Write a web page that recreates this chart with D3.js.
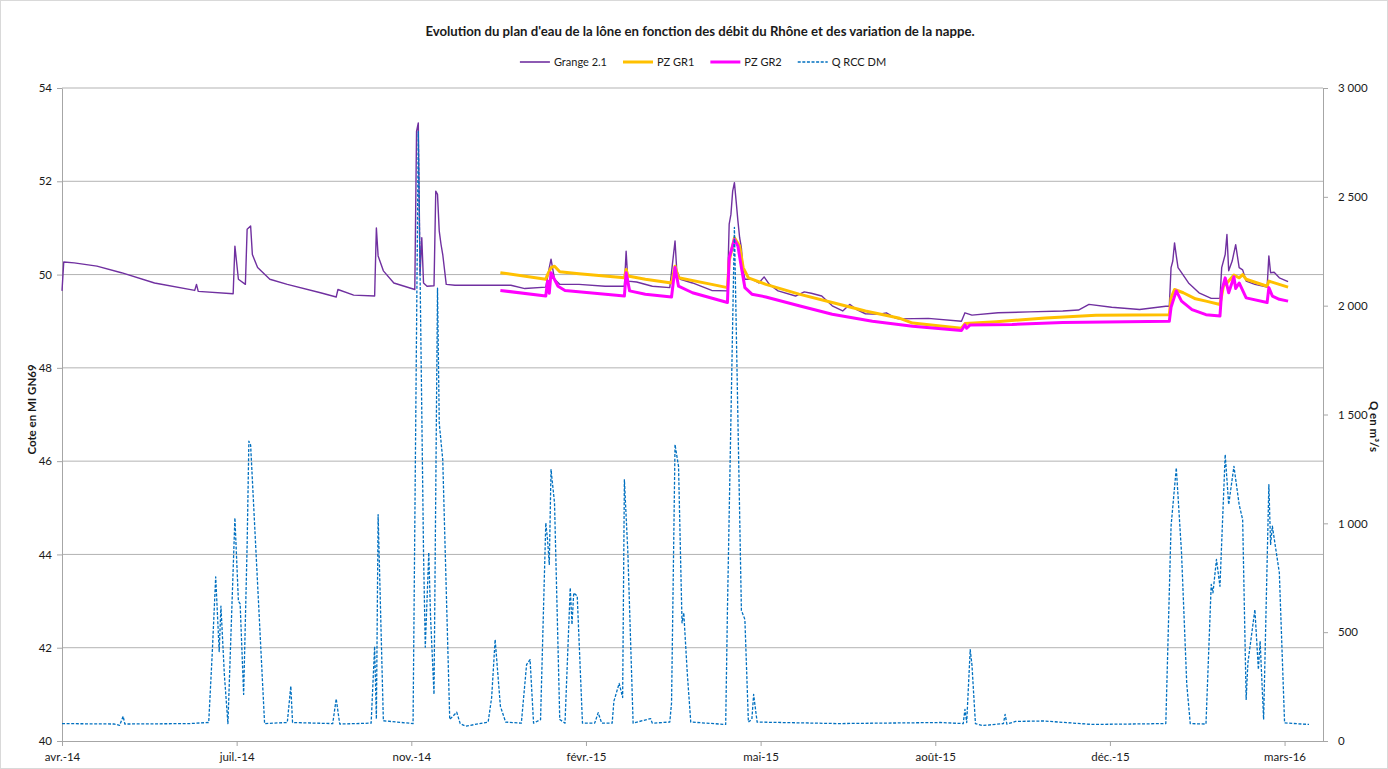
<!DOCTYPE html>
<html>
<head>
<meta charset="utf-8">
<script src="https://cdnjs.cloudflare.com/ajax/libs/d3/7.8.5/d3.min.js"></script>
<style>
    body { margin: 0; background: #fff; }
    svg text { font-family: Lato, "Open Sans", sans-serif; fill: #1a1a1a; }
</style>
</head>
<body>
<div id="chart"></div>
<script>
// ---- data ----
const chartTitle = "Evolution du plan d'eau de la lône en fonction des débit du Rhône et des variation de la nappe.";
const seriesNames = ["Grange 2.1", "PZ GR1", "PZ GR2", "Q RCC DM"];
const leftTicks = [40, 42, 44, 46, 48, 50, 52, 54];
const rightTicks = [0, 500, 1000, 1500, 2000, 2500, 3000];
const axisStart = "2014-04-16";
const axisEnd = "2016-04-07";
const tickStepDays = 100;

// water level at Grange 2.1 (m)
const grangeData = [
    ["2014-04-16", 49.65], ["2014-04-17", 50.27], ["2014-04-23", 50.25], ["2014-05-06", 50.18],
    ["2014-05-20", 50.04], ["2014-06-08", 49.82], ["2014-07-01", 49.66], ["2014-07-02", 49.79],
    ["2014-07-03", 49.64], ["2014-07-23", 49.59], ["2014-07-24", 50.61], ["2014-07-26", 49.9],
    ["2014-07-30", 49.79], ["2014-07-31", 50.97], ["2014-08-02", 51.04], ["2014-08-03", 50.43],
    ["2014-08-06", 50.15], ["2014-08-13", 49.9], ["2014-08-23", 49.79], ["2014-09-11", 49.61],
    ["2014-09-20", 49.52], ["2014-09-21", 49.68], ["2014-09-30", 49.56], ["2014-10-12", 49.54],
    ["2014-10-13", 51.0], ["2014-10-14", 50.4], ["2014-10-17", 50.08], ["2014-10-23", 49.82],
    ["2014-11-04", 49.68], ["2014-11-05", 53.07], ["2014-11-06", 53.25], ["2014-11-07", 50.0],
    ["2014-11-08", 50.79], ["2014-11-09", 49.82], ["2014-11-11", 49.75], ["2014-11-15", 49.76],
    ["2014-11-16", 51.79], ["2014-11-17", 51.72], ["2014-11-18", 50.93], ["2014-11-19", 50.65],
    ["2014-11-20", 50.43], ["2014-11-22", 49.79], ["2014-11-27", 49.77], ["2014-12-29", 49.77],
    ["2015-01-06", 49.7], ["2015-01-18", 49.73], ["2015-01-20", 50.15], ["2015-01-21", 50.33],
    ["2015-01-23", 49.9], ["2015-01-26", 49.79], ["2015-02-06", 49.79], ["2015-02-21", 49.75],
    ["2015-03-04", 49.75], ["2015-03-05", 50.5], ["2015-03-06", 49.86], ["2015-03-11", 49.84],
    ["2015-03-20", 49.75], ["2015-03-30", 49.72], ["2015-04-02", 50.72], ["2015-04-03", 50.08],
    ["2015-04-05", 49.9], ["2015-04-12", 49.82], ["2015-04-23", 49.66], ["2015-05-02", 49.65],
    ["2015-05-03", 51.08], ["2015-05-04", 51.29], ["2015-05-05", 51.79], ["2015-05-06", 51.97],
    ["2015-05-07", 51.57], ["2015-05-08", 51.15], ["2015-05-09", 50.79], ["2015-05-10", 50.57],
    ["2015-05-11", 50.08], ["2015-05-12", 49.9], ["2015-05-16", 49.9], ["2015-05-20", 49.82],
    ["2015-05-23", 49.95], ["2015-05-26", 49.79], ["2015-05-31", 49.65], ["2015-06-10", 49.54],
    ["2015-06-15", 49.63], ["2015-06-19", 49.6], ["2015-06-25", 49.54], ["2015-07-01", 49.33],
    ["2015-07-07", 49.22], ["2015-07-11", 49.36], ["2015-07-15", 49.25], ["2015-07-20", 49.16],
    ["2015-07-28", 49.15], ["2015-08-01", 49.18], ["2015-08-06", 49.07], ["2015-08-08", 49.05],
    ["2015-08-25", 49.06], ["2015-09-13", 49.0], ["2015-09-15", 49.18], ["2015-09-19", 49.13],
    ["2015-10-04", 49.18], ["2015-10-22", 49.2], ["2015-11-10", 49.22], ["2015-11-19", 49.24],
    ["2015-11-25", 49.36], ["2015-12-08", 49.3], ["2015-12-24", 49.25], ["2016-01-08", 49.32],
    ["2016-01-10", 49.32], ["2016-01-11", 50.15], ["2016-01-12", 50.29], ["2016-01-13", 50.68],
    ["2016-01-14", 50.4], ["2016-01-15", 50.15], ["2016-01-17", 50.04], ["2016-01-21", 49.82],
    ["2016-01-27", 49.61], ["2016-02-03", 49.49], ["2016-02-08", 49.49], ["2016-02-09", 50.15],
    ["2016-02-11", 50.43], ["2016-02-12", 50.86], ["2016-02-13", 50.08], ["2016-02-15", 50.29],
    ["2016-02-17", 50.64], ["2016-02-19", 50.15], ["2016-02-21", 50.1], ["2016-02-23", 49.86],
    ["2016-02-28", 49.79], ["2016-03-06", 49.73], ["2016-03-07", 50.4], ["2016-03-08", 50.04],
    ["2016-03-10", 50.05], ["2016-03-13", 49.93], ["2016-03-18", 49.85]
];

// piezometer PZ GR1 (m)
const pzGr1Data = [
    ["2014-12-23", 50.04], ["2015-01-18", 49.9], ["2015-01-19", 50.0], ["2015-01-21", 50.15],
    ["2015-01-23", 50.18], ["2015-01-26", 50.06], ["2015-02-06", 50.02], ["2015-03-04", 49.93],
    ["2015-03-05", 50.11], ["2015-03-06", 49.97], ["2015-03-16", 49.9], ["2015-03-31", 49.82],
    ["2015-04-02", 50.18], ["2015-04-04", 49.93], ["2015-04-23", 49.79], ["2015-05-02", 49.72],
    ["2015-05-03", 50.29], ["2015-05-06", 50.79], ["2015-05-09", 50.61], ["2015-05-11", 50.15],
    ["2015-05-14", 49.93], ["2015-05-24", 49.79], ["2015-06-12", 49.58], ["2015-07-01", 49.4],
    ["2015-07-20", 49.22], ["2015-08-08", 49.07], ["2015-08-16", 48.96], ["2015-09-13", 48.85],
    ["2015-09-15", 48.95], ["2015-10-03", 48.99], ["2015-10-31", 49.07], ["2015-11-29", 49.13],
    ["2016-01-10", 49.14], ["2016-01-11", 49.5], ["2016-01-13", 49.68], ["2016-01-18", 49.61],
    ["2016-01-25", 49.48], ["2016-01-31", 49.43], ["2016-02-08", 49.36], ["2016-02-10", 49.75],
    ["2016-02-12", 49.82], ["2016-02-16", 49.99], ["2016-02-19", 49.93], ["2016-02-21", 50.0],
    ["2016-02-23", 49.9], ["2016-03-06", 49.75], ["2016-03-07", 49.86], ["2016-03-18", 49.73]
];

// piezometer PZ GR2 (m)
const pzGr2Data = [
    ["2014-12-23", 49.66], ["2015-01-18", 49.54], ["2015-01-19", 49.86], ["2015-01-20", 49.6],
    ["2015-01-21", 50.04], ["2015-01-25", 49.75], ["2015-01-29", 49.66], ["2015-03-04", 49.54],
    ["2015-03-05", 50.04], ["2015-03-07", 49.65], ["2015-03-16", 49.58], ["2015-03-31", 49.52],
    ["2015-04-02", 50.15], ["2015-04-04", 49.75], ["2015-04-12", 49.61], ["2015-05-02", 49.4],
    ["2015-05-03", 50.36], ["2015-05-06", 50.75], ["2015-05-08", 50.61], ["2015-05-10", 50.15],
    ["2015-05-12", 49.72], ["2015-05-16", 49.58], ["2015-05-24", 49.52], ["2015-06-12", 49.33],
    ["2015-07-01", 49.15], ["2015-07-24", 49.0], ["2015-08-16", 48.89], ["2015-09-13", 48.8],
    ["2015-09-15", 48.92], ["2015-09-16", 48.85], ["2015-09-18", 48.92], ["2015-10-12", 48.93],
    ["2015-11-10", 48.97], ["2016-01-10", 49.0], ["2016-01-11", 49.3], ["2016-01-14", 49.65],
    ["2016-01-17", 49.43], ["2016-01-23", 49.25], ["2016-01-31", 49.14], ["2016-02-08", 49.11],
    ["2016-02-09", 49.65], ["2016-02-11", 49.93], ["2016-02-13", 49.61], ["2016-02-16", 49.95],
    ["2016-02-17", 49.7], ["2016-02-19", 49.82], ["2016-02-23", 49.5], ["2016-03-06", 49.4],
    ["2016-03-07", 49.72], ["2016-03-09", 49.54], ["2016-03-13", 49.47], ["2016-03-18", 49.43]
];

// Rhône discharge Q RCC DM (m3/s)
const qRccData = [
    ["2014-04-16", 80], ["2014-05-16", 78], ["2014-05-19", 72], ["2014-05-21", 114], ["2014-05-22", 78],
    ["2014-06-28", 80], ["2014-07-09", 85], ["2014-07-11", 400], ["2014-07-13", 754], ["2014-07-15", 411],
    ["2014-07-16", 619], ["2014-07-18", 300], ["2014-07-20", 80], ["2014-07-24", 1025], ["2014-07-26", 642],
    ["2014-07-27", 630], ["2014-07-29", 214], ["2014-07-31", 900], ["2014-08-01", 1377], ["2014-08-02", 1360],
    ["2014-08-10", 80], ["2014-08-23", 85], ["2014-08-25", 252], ["2014-08-26", 85], ["2014-09-18", 80],
    ["2014-09-20", 194], ["2014-09-22", 78], ["2014-10-10", 82], ["2014-10-12", 435], ["2014-10-13", 101],
    ["2014-10-14", 1040], ["2014-10-17", 93], ["2014-11-03", 80], ["2014-11-06", 2800], ["2014-11-09", 864],
    ["2014-11-10", 431], ["2014-11-12", 866], ["2014-11-13", 573], ["2014-11-15", 214], ["2014-11-17", 2080],
    ["2014-11-18", 1460], ["2014-11-20", 1293], ["2014-11-24", 99], ["2014-11-28", 132], ["2014-11-30", 80],
    ["2014-12-03", 68], ["2014-12-16", 87], ["2014-12-18", 200], ["2014-12-20", 466], ["2014-12-23", 160],
    ["2014-12-26", 87], ["2015-01-04", 82], ["2015-01-07", 351], ["2015-01-09", 374], ["2015-01-11", 82],
    ["2015-01-15", 98], ["2015-01-18", 1002], ["2015-01-19", 925], ["2015-01-20", 811], ["2015-01-21", 1247],
    ["2015-01-23", 1094], ["2015-01-26", 99], ["2015-01-29", 82], ["2015-02-01", 704], ["2015-02-02", 535],
    ["2015-02-03", 681], ["2015-02-05", 666], ["2015-02-08", 82], ["2015-02-15", 82], ["2015-02-17", 130],
    ["2015-02-19", 82], ["2015-02-25", 82], ["2015-02-26", 183], ["2015-02-28", 237], ["2015-03-01", 265],
    ["2015-03-03", 200], ["2015-03-04", 1201], ["2015-03-06", 864], ["2015-03-09", 82], ["2015-03-19", 103],
    ["2015-03-20", 82], ["2015-03-30", 87], ["2015-03-31", 175], ["2015-04-02", 1362], ["2015-04-04", 1262],
    ["2015-04-06", 543], ["2015-04-07", 589], ["2015-04-09", 313], ["2015-04-11", 87], ["2015-05-01", 76],
    ["2015-05-02", 600], ["2015-05-06", 2360], ["2015-05-10", 600], ["2015-05-12", 558], ["2015-05-14", 87],
    ["2015-05-16", 100], ["2015-05-17", 214], ["2015-05-19", 87], ["2015-07-05", 80], ["2015-09-01", 85],
    ["2015-09-14", 80], ["2015-09-15", 145], ["2015-09-16", 85], ["2015-09-18", 420], ["2015-09-19", 350],
    ["2015-09-21", 80], ["2015-09-25", 71], ["2015-10-07", 80], ["2015-10-08", 122], ["2015-10-09", 78],
    ["2015-10-14", 90], ["2015-10-30", 92], ["2015-11-27", 76], ["2016-01-08", 80], ["2016-01-11", 987],
    ["2016-01-14", 1255], ["2016-01-17", 864], ["2016-01-20", 260], ["2016-01-22", 80], ["2016-01-31", 78],
    ["2016-02-03", 719], ["2016-02-04", 681], ["2016-02-06", 834], ["2016-02-08", 711], ["2016-02-11", 1316],
    ["2016-02-13", 1086], ["2016-02-16", 1262], ["2016-02-19", 1086], ["2016-02-21", 1017], ["2016-02-23", 191],
    ["2016-02-24", 359], ["2016-02-28", 604], ["2016-03-01", 328], ["2016-03-02", 458], ["2016-03-04", 99],
    ["2016-03-07", 1178], ["2016-03-08", 903], ["2016-03-09", 987], ["2016-03-13", 773], ["2016-03-16", 83],
    ["2016-03-30", 76]
];

const seriesColors = ["#7030A0", "#FFC000", "#FF00FF", "#0070C0"];

class LoneChart {
    constructor(parentElement) {
        this.parentElement = parentElement;
        this.initVis();
    }

    initVis() {
        let vis = this;
        vis.W = 1388;
        vis.H = 769;
        vis.margin = { top: 88, right: 65, bottom: 28, left: 62 };
        vis.width = vis.W - vis.margin.left - vis.margin.right;
        vis.height = vis.H - vis.margin.top - vis.margin.bottom;

        vis.svg = d3.select(vis.parentElement)
            .append("svg")
            .attr("width", vis.W)
            .attr("height", vis.H);

        // chart area border
        vis.svg.append("rect")
            .attr("x", 0.5).attr("y", 0.5)
            .attr("width", vis.W - 1).attr("height", vis.H - 1)
            .attr("fill", "none")
            .attr("stroke", "#d9d9d9");

        vis.g = vis.svg.append("g")
            .attr("transform", `translate(${vis.margin.left},${vis.margin.top})`);

        const parse = d3.timeParse("%Y-%m-%d");
        const fr = d3.timeFormatLocale({
            dateTime: "%A %e %B %Y à %X", date: "%d/%m/%Y", time: "%H:%M:%S",
            periods: ["AM", "PM"],
            days: ["dimanche", "lundi", "mardi", "mercredi", "jeudi", "vendredi", "samedi"],
            shortDays: ["dim.", "lun.", "mar.", "mer.", "jeu.", "ven.", "sam."],
            months: ["janvier", "février", "mars", "avril", "mai", "juin", "juillet", "août", "septembre", "octobre", "novembre", "décembre"],
            shortMonths: ["janv.", "févr.", "mars", "avr.", "mai", "juin", "juil.", "août", "sept.", "oct.", "nov.", "déc."]
        });
        const numFr = d3.formatLocale({ decimal: ",", thousands: "\u00a0", grouping: [3], currency: ["", " €"] });

        vis.series = [grangeData, pzGr1Data, pzGr2Data, qRccData].map(arr =>
            arr.map(([d, v]) => ({ date: parse(d), value: v })));

        // scales
        const start = parse(axisStart);
        vis.x = d3.scaleTime().domain([start, parse(axisEnd)]).range([0, vis.width]);
        vis.yL = d3.scaleLinear().domain([40, 54]).range([vis.height, 0]);
        vis.yR = d3.scaleLinear().domain([0, 3000]).range([vis.height, 0]);

        const xTicks = d3.range(8).map(i => d3.timeDay.offset(start, i * tickStepDays));

        // gridlines
        vis.g.append("g")
            .selectAll("line")
            .data(leftTicks.filter(d => d !== 40))
            .join("line")
            .attr("x1", 0).attr("x2", vis.width)
            .attr("y1", d => vis.yL(d)).attr("y2", d => vis.yL(d))
            .attr("stroke", "#b3b3b3")
            .attr("stroke-width", 1);

        // axes
        const styleAxis = sel => {
            sel.select(".domain").attr("stroke", "#a6a6a6");
            sel.selectAll(".tick line").attr("stroke", "#a6a6a6");
            sel.selectAll(".tick text").style("font-size", "11.5px").attr("fill", "#1a1a1a");
        };

        vis.g.append("g")
            .attr("transform", `translate(0,${vis.height})`)
            .call(d3.axisBottom(vis.x).tickValues(xTicks).tickFormat(fr.format("%b-%y"))
                .tickSize(5).tickSizeOuter(0).tickPadding(7))
            .call(styleAxis);

        vis.g.append("g")
            .call(d3.axisLeft(vis.yL).tickValues(leftTicks).tickSize(5).tickSizeOuter(0).tickPadding(5))
            .call(styleAxis);

        vis.g.append("g")
            .attr("transform", `translate(${vis.width},0)`)
            .call(d3.axisRight(vis.yR).tickValues(rightTicks).tickFormat(numFr.format(","))
                .tickSize(5).tickSizeOuter(0).tickPadding(10))
            .call(styleAxis);

        // axis titles
        vis.svg.append("text")
            .attr("transform", `translate(36,${vis.margin.top + vis.height / 2 - 5}) rotate(-90)`)
            .attr("text-anchor", "middle")
            .style("font-size", "11.5px")
            .style("font-weight", "bold")
            .text("Cote en MI GN69");

        vis.svg.append("text")
            .attr("transform", `translate(1370,${vis.margin.top + vis.height / 2 + 12}) rotate(90)`)
            .attr("text-anchor", "middle")
            .style("font-size", "11.5px")
            .style("font-weight", "bold")
            .text("Q en m³/s");

        // title
        vis.svg.append("text")
            .attr("x", 700).attr("y", 36)
            .attr("text-anchor", "middle")
            .style("font-size", "13.2px")
            .style("font-weight", "bold")
            .text(chartTitle);

        vis.drawLines();
        vis.drawLegend();
    }

    drawLines() {
        let vis = this;
        const lineL = d3.line().x(d => vis.x(d.date)).y(d => vis.yL(d.value));
        const lineR = d3.line().x(d => vis.x(d.date)).y(d => vis.yR(d.value));
        const widths = [1.4, 3, 3, 1.3];

        vis.g.selectAll(".series")
            .data(vis.series)
            .join("path")
            .attr("class", "series")
            .attr("fill", "none")
            .attr("stroke", (d, i) => seriesColors[i])
            .attr("stroke-width", (d, i) => widths[i])
            .attr("stroke-linejoin", "round")
            .attr("stroke-dasharray", (d, i) => i === 3 ? "3,1.6" : null)
            .attr("d", (d, i) => i === 3 ? lineR(d) : lineL(d));
    }

    drawLegend() {
        let vis = this;
        const legend = vis.svg.append("g").attr("transform", "translate(0,62)");
        let xPos = 0;
        const items = legend.selectAll("g")
            .data(seriesNames)
            .join("g");

        items.append("line")
            .attr("x1", 0).attr("x2", 30)
            .attr("stroke", (d, i) => seriesColors[i])
            .attr("stroke-width", (d, i) => i === 0 ? 1.6 : i === 3 ? 1.3 : 3)
            .attr("stroke-dasharray", (d, i) => i === 3 ? "3,1.6" : null);

        items.append("text")
            .attr("x", 34).attr("dy", "0.35em")
            .style("font-size", "11px")
            .text(d => d);

        items.each(function () {
            const w = 34 + d3.select(this).select("text").node().getComputedTextLength();
            d3.select(this).attr("transform", `translate(${xPos},0)`);
            xPos += w + 16;
        });
        const total = xPos - 16;
        legend.attr("transform", `translate(${703 - total / 2},62)`);
    }
}

new LoneChart("#chart");
</script>
</body>
</html>
